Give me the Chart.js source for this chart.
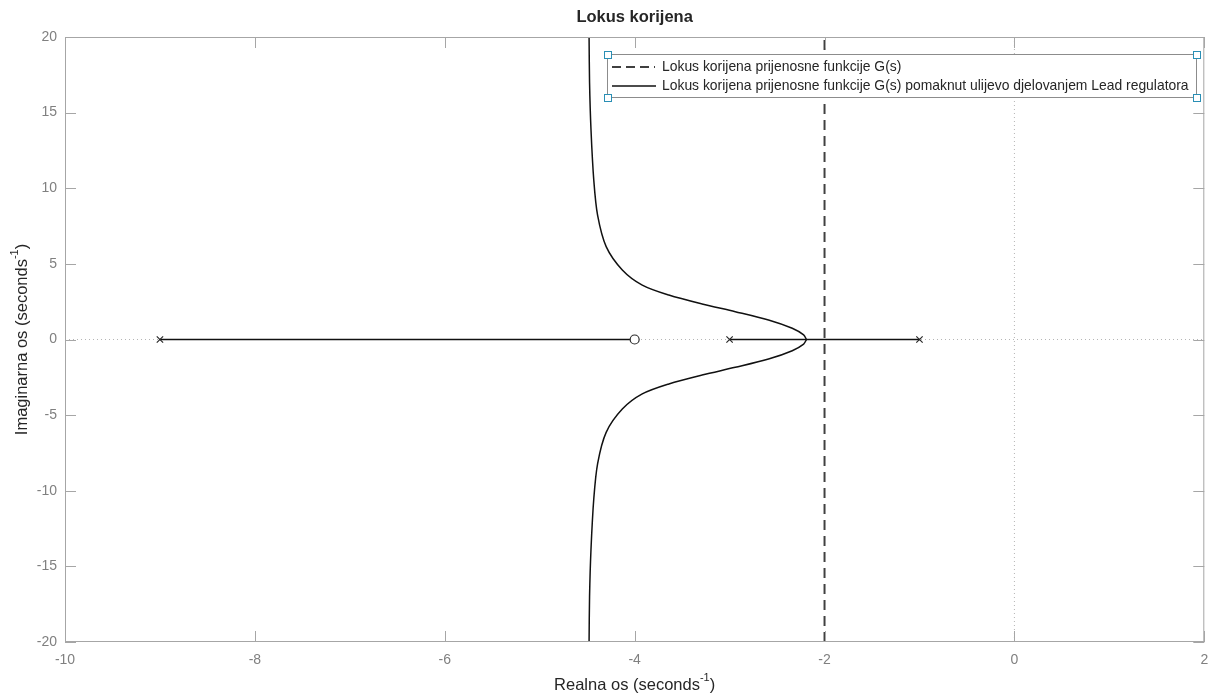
<!DOCTYPE html>
<html>
<head>
<meta charset="utf-8">
<title>Lokus korijena</title>
<script src="https://cdn.jsdelivr.net/npm/chart.js@4"></script>
<style>
  body { margin: 0; background: #ffffff; }
  canvas { display: block; }
</style>
</head>
<body>
<canvas id="locusChart" width="1210" height="695"></canvas>
<script>
// axis ranges and ticks
const xRange = [-10, 2];
const yRange = [-20, 20];
const xStep = 2;
const yStep = 5;

// root locus of G(s) (dashed vertical branch)
const gLocusX = [-2, -2];
const gLocusY = [-20, 20];

// root locus with Lead regulator - upper complex branch
const upperX = [-2.19, -2.22, -2.34, -2.59, -2.94, -3.29, -3.64, -3.92, -4.13, -4.30, -4.39, -4.43, -4.46, -4.475, -4.48];
const upperY = [0, 0.30, 0.74, 1.29, 1.84, 2.35, 2.94, 3.60, 4.60, 6.14, 8.20, 10.5, 13.9, 17.0, 20];
// lower complex branch
const lowerX = [-2.19, -2.22, -2.34, -2.59, -2.94, -3.29, -3.64, -3.92, -4.13, -4.30, -4.39, -4.43, -4.46, -4.475, -4.48];
const lowerY = [0, -0.30, -0.74, -1.29, -1.84, -2.35, -2.94, -3.60, -4.60, -6.14, -8.20, -10.5, -13.9, -17.0, -20];
// real axis segments
const leftSegX = [-9, -4];
const rightSegX = [-3, -1];

// poles and zeros
const polesX = [-9, -3, -1];
const zerosX = [-4];

// legend labels
const legendLabels = [
    'Lokus korijena prijenosne funkcije G(s)',
    'Lokus korijena prijenosne funkcije G(s) pomaknut ulijevo djelovanjem Lead regulatora'
];

const toPoints = (xs, ys) => xs.map((x, i) => ({x: x, y: ys[i]}));

const fontFamily = '"Liberation Sans", Arial, Helvetica, sans-serif';
const tickColor = '#808080';
const boxColor = '#a6a6a6';
const textColor = '#262626';

// draws box, inside tick marks, titles and legend (MATLAB look)
const matlabPlugin = {
    id: 'matlabLook',
    afterDatasetsDraw(chart) {
        const ctx = chart.ctx;
        const a = chart.chartArea;
        const xs = chart.scales.x;
        const ys = chart.scales.y;
        ctx.save();

        // box
        ctx.strokeStyle = boxColor;
        ctx.lineWidth = 1;
        ctx.strokeRect(a.left + 0.5, a.top + 0.5, a.right - a.left - 1, a.bottom - a.top - 1);

        // inside tick marks
        const tl = 11;
        ctx.beginPath();
        xs.ticks.forEach(t => {
            const px = Math.round(xs.getPixelForValue(t.value)) + 0.5;
            ctx.moveTo(px, a.bottom); ctx.lineTo(px, a.bottom - tl);
            ctx.moveTo(px, a.top); ctx.lineTo(px, a.top + tl);
        });
        ys.ticks.forEach(t => {
            const py = Math.round(ys.getPixelForValue(t.value)) + 0.5;
            ctx.moveTo(a.left, py); ctx.lineTo(a.left + tl, py);
            ctx.moveTo(a.right, py); ctx.lineTo(a.right - tl, py);
        });
        ctx.stroke();

        // title
        ctx.fillStyle = textColor;
        ctx.font = 'bold 16.5px ' + fontFamily;
        ctx.textAlign = 'center';
        ctx.textBaseline = 'middle';
        ctx.fillText('Lokus korijena', (a.left + a.right) / 2, 17);

        // axis label with superscript -1
        const drawSup = (main, cx, cy) => {
            ctx.font = '16.5px ' + fontFamily;
            const w1 = ctx.measureText(main).width;
            ctx.font = '11px ' + fontFamily;
            const w2 = ctx.measureText('-1').width;
            ctx.font = '16.5px ' + fontFamily;
            const w3 = ctx.measureText(')').width;
            const x0 = cx - (w1 + w2 + w3) / 2;
            ctx.textAlign = 'left';
            ctx.textBaseline = 'alphabetic';
            ctx.fillText(main, x0, cy);
            ctx.font = '11px ' + fontFamily;
            ctx.fillText('-1', x0 + w1, cy - 9);
            ctx.font = '16.5px ' + fontFamily;
            ctx.fillText(')', x0 + w1 + w2, cy);
        };
        ctx.fillStyle = textColor;
        drawSup('Realna os (seconds', (a.left + a.right) / 2, 690);
        ctx.save();
        ctx.translate(27, (a.top + a.bottom) / 2);
        ctx.rotate(-Math.PI / 2);
        drawSup('Imaginarna os (seconds', 0, 0);
        ctx.restore();

        // legend
        const lx = 607, ly = 54, lw = 589, lh = 43;
        ctx.fillStyle = '#ffffff';
        ctx.fillRect(lx, ly, lw, lh);
        ctx.strokeStyle = '#8c8c8c';
        ctx.lineWidth = 1;
        ctx.strokeRect(lx + 0.5, ly + 0.5, lw, lh);

        ctx.lineWidth = 2;
        ctx.strokeStyle = '#404040';
        ctx.setLineDash([9, 5]);
        ctx.beginPath(); ctx.moveTo(612, 67); ctx.lineTo(655, 67); ctx.stroke();
        ctx.setLineDash([]);
        ctx.lineWidth = 1.5;
        ctx.strokeStyle = '#111111';
        ctx.beginPath(); ctx.moveTo(612, 86); ctx.lineTo(656, 86); ctx.stroke();

        ctx.fillStyle = textColor;
        ctx.font = '13.9px ' + fontFamily;
        ctx.textAlign = 'left';
        ctx.textBaseline = 'middle';
        ctx.fillText(legendLabels[0], 662, 67);
        ctx.fillText(legendLabels[1], 662, 86);

        // selection handles on legend corners
        ctx.lineWidth = 1;
        ctx.strokeStyle = '#2a8fb5';
        ctx.fillStyle = '#ffffff';
        [[lx, ly], [lx + lw, ly], [lx, ly + lh], [lx + lw, ly + lh]].forEach(p => {
            ctx.fillRect(p[0] - 3, p[1] - 3, 7, 7);
            ctx.strokeRect(p[0] - 3 + 0.5, p[1] - 3 + 0.5, 7, 7);
        });

        ctx.restore();
    }
};

const locusLine = (xs, ys) => ({
    data: toPoints(xs, ys),
    showLine: true,
    borderColor: '#111111',
    borderWidth: 1.5,
    pointRadius: 0,
    tension: 0.3,
    order: 3
});

new Chart(document.getElementById('locusChart'), {
    type: 'scatter',
    data: {
        datasets: [
            {   // dotted real axis
                data: toPoints(xRange, [0, 0]),
                showLine: true, borderColor: '#b5b5b5', borderWidth: 1,
                borderDash: [1, 3], pointRadius: 0, order: 10
            },
            {   // dotted imaginary axis
                data: toPoints([0, 0], yRange),
                showLine: true, borderColor: '#b5b5b5', borderWidth: 1,
                borderDash: [1, 3], pointRadius: 0, order: 10
            },
            {
                label: legendLabels[0],
                data: toPoints(gLocusX, gLocusY),
                showLine: true, borderColor: '#404040', borderWidth: 2,
                borderDash: [10, 6], pointRadius: 0, order: 2
            },
            Object.assign(locusLine(upperX, upperY), {label: legendLabels[1]}),
            locusLine(lowerX, lowerY),
            locusLine(leftSegX, [0, 0]),
            locusLine(rightSegX, [0, 0]),
            {   // poles
                data: toPoints(polesX, polesX.map(() => 0)),
                pointStyle: 'crossRot', pointRadius: 4.5, borderColor: '#2b2b2b',
                borderWidth: 1.2, order: 1
            },
            {   // zeros
                data: toPoints(zerosX, zerosX.map(() => 0)),
                pointStyle: 'circle', pointRadius: 4.5, borderColor: '#2b2b2b',
                backgroundColor: '#ffffff', borderWidth: 1.2, order: 1
            }
        ]
    },
    options: {
        responsive: false,
        animation: false,
        devicePixelRatio: 1,
        layout: { padding: { top: 37, right: 2, left: 0, bottom: 0 } },
        plugins: {
            legend: { display: false },
            title: { display: false },
            tooltip: { enabled: false }
        },
        scales: {
            x: {
                type: 'linear',
                min: xRange[0], max: xRange[1],
                afterFit(scale) { scale.height = 53; scale.paddingLeft = 0; scale.paddingRight = 0; },
                grid: { display: false, drawTicks: false },
                border: { display: false },
                ticks: {
                    stepSize: xStep, color: tickColor, padding: 10,
                    font: { family: fontFamily, size: 14 },
                    maxRotation: 0
                }
            },
            y: {
                type: 'linear',
                min: yRange[0], max: yRange[1],
                afterFit(scale) { scale.width = 65; scale.paddingTop = 0; scale.paddingBottom = 0; },
                grid: { display: false, drawTicks: false },
                border: { display: false },
                ticks: {
                    stepSize: yStep, color: tickColor, padding: 8,
                    font: { family: fontFamily, size: 14 }
                }
            }
        }
    },
    plugins: [matlabPlugin]
});
</script>
</body>
</html>
